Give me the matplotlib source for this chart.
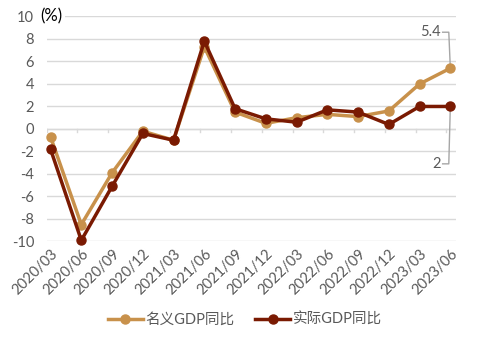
import matplotlib
matplotlib.use("Agg")
import matplotlib.pyplot as plt
import numpy as np

plt.rcParams['font.family'] = ['Lato', 'Noto Sans CJK SC', 'DejaVu Sans']

quarters = ["2020/03", "2020/06", "2020/09", "2020/12", "2021/03", "2021/06",
            "2021/09", "2021/12", "2022/03", "2022/06", "2022/09", "2022/12",
            "2023/03", "2023/06"]
nominal = [-0.7, -8.5, -3.9, -0.2, -1.0, 7.3, 1.5, 0.5, 1.0, 1.3, 1.1, 1.6, 4.0, 5.4]
real = [-1.8, -9.9, -5.1, -0.4, -1.0, 7.8, 1.8, 0.9, 0.6, 1.7, 1.5, 0.4, 2.0, 2.0]
series_names = ["名义GDP同比", "实际GDP同比"]
yticks = [-10, -8, -6, -4, -2, 0, 2, 4, 6, 8, 10]

c_nom = "#C8914B"
c_real = "#7A1A02"
grid_c = "#D9D9D9"
text_c = "#595959"

fig = plt.figure(figsize=(4.8, 3.43), dpi=100)
ax = fig.add_axes([0.097, 0.296, 0.854, 0.656])

x = np.arange(len(quarters))
ax.plot(x, nominal, color=c_nom, lw=2.5, marker="o", ms=6.5, label=series_names[0],
        zorder=3, clip_on=False)
ax.plot(x, real, color=c_real, lw=2.5, marker="o", ms=6.5, label=series_names[1],
        zorder=4, clip_on=False)

ax.set_ylim(-10, 10)
ax.set_xlim(-0.13, 13.2)
ax.set_yticks(yticks)
ax.set_yticklabels([str(v) for v in yticks], color=text_c, fontsize=10.5)
ax.yaxis.grid(True, color=grid_c, lw=1)
ax.set_axisbelow(True)
ax.tick_params(axis="y", length=0, pad=9)

ax.set_xticks(x)
ax.set_xticklabels(quarters, rotation=45, ha="right", rotation_mode="anchor",
                   color=text_c, fontsize=10.5)
ax.tick_params(axis="x", length=0, pad=4)

for s in ax.spines.values():
    s.set_visible(False)

# zero line with small category tick marks
ax.axhline(0, color=grid_c, lw=1, zorder=1)
for i in range(len(quarters)):
    ax.plot([i - 0.13, i - 0.13], [0, -0.3], color=grid_c, lw=1, zorder=1)

# unit label
ax.text(-0.32, 10, "(%)", color="black", fontsize=12, ha="left", va="center",
        bbox=dict(facecolor="white", edgecolor="none", pad=1.5), zorder=5)

# end-point value labels with leader lines
lx = x[-1]
ax.plot([lx, lx - 0.05, lx - 0.25], [nominal[-1], 8.6, 8.6], color="#A6A6A6", lw=1, zorder=2)
ax.text(lx - 0.32, 8.6, f"{nominal[-1]:g}", color=text_c, fontsize=10.5, ha="right", va="center")
ax.plot([lx, lx - 0.05, lx - 0.25], [real[-1], -3.1, -3.1], color="#A6A6A6", lw=1, zorder=2)
ax.text(lx - 0.32, -3.1, f"{real[-1]:g}", color=text_c, fontsize=10.5, ha="right", va="center")

leg = fig.legend(loc="center", bbox_to_anchor=(0.51, 0.068), ncol=2, frameon=False,
                 fontsize=10.5, handlelength=2.4, columnspacing=1.4, handletextpad=0.2)
for t in leg.get_texts():
    t.set_color(text_c)

fig.savefig("out.png", dpi=100)
